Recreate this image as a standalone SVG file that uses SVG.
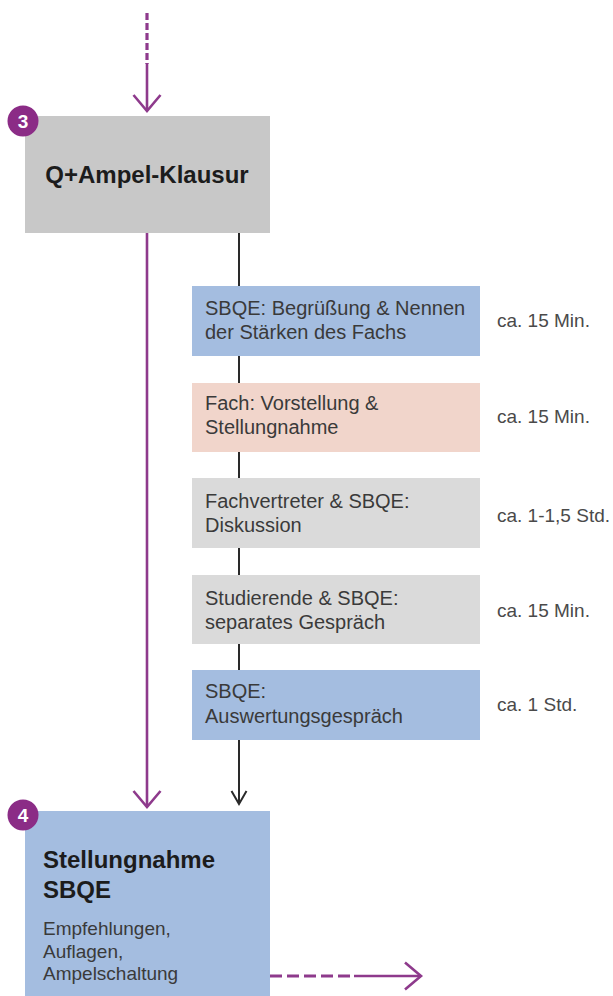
<svg xmlns="http://www.w3.org/2000/svg" width="613" height="996" viewBox="0 0 613 996">
<defs>
<style>
.bg{fill:#ffffff}
.hdr{fill:#c8c8c8}
.blue{fill:#a4bde0}
.pink{fill:#f1d5cb}
.grey{fill:#dadada}
.badge{fill:#8b2c86}
.badgetxt{font-family:"Liberation Sans",Arial,sans-serif;font-size:19px;font-weight:bold;fill:#ffffff;text-anchor:middle}
.title{font-family:"Liberation Sans",Arial,sans-serif;font-size:24px;font-weight:bold;fill:#1c1c1c}
.step{font-family:"Liberation Sans",Arial,sans-serif;font-size:20px;fill:#3a3a3a}
.dur{font-family:"Liberation Sans",Arial,sans-serif;font-size:19px;fill:#4a4a4a}
.sub{font-family:"Liberation Sans",Arial,sans-serif;font-size:19px;fill:#3a3a3a}
.purple{fill:none;stroke:#8e3a8c;stroke-width:2.6}
.dash{fill:none;stroke:#8e3a8c;stroke-width:3.2}
.black{fill:none;stroke:#2a2a2a;stroke-width:2}
</style>
<marker id="ap" markerUnits="userSpaceOnUse" markerWidth="22" markerHeight="32" refX="18" refY="15" orient="auto">
<path d="M2,1.5 L18,15 L2,28.5" fill="none" stroke="#8e3a8c" stroke-width="2.6"/>
</marker>
<marker id="ab" markerUnits="userSpaceOnUse" markerWidth="18" markerHeight="20" refX="15" refY="9" orient="auto">
<path d="M2,1.5 L15,9 L2,16.5" fill="none" stroke="#2a2a2a" stroke-width="2"/>
</marker>
</defs>
<rect class="bg" x="0" y="0" width="613" height="996"/>

<g id="connectors">
<path class="dash" d="M147,13 L147,64" stroke-dasharray="7 3"/>
<path class="purple" d="M147,63 L147,111" marker-end="url(#ap)"/>
<path class="purple" d="M147,233 L147,807" marker-end="url(#ap)"/>
<path class="black" d="M239,233 L239,804" marker-end="url(#ab)"/>
<path class="dash" d="M270,976 L354,976" stroke-dasharray="12 5"/>
<path class="purple" d="M354,976 L421,976" marker-end="url(#ap)"/>
</g>

<g id="node3">
<rect class="hdr" x="25" y="116" width="245" height="117"/>
<text class="title" x="147" y="183" text-anchor="middle">Q+Ampel-Klausur</text>
<circle class="badge" cx="23" cy="121" r="15.5"/>
<text class="badgetxt" x="23" y="128">3</text>
</g>

<g id="step1">
<rect class="blue" x="192" y="286" width="288" height="70"/>
<text class="step" x="205" y="315">SBQE: Begrüßung &amp; Nennen</text>
<text class="step" x="205" y="339">der Stärken des Fachs</text>
<text class="dur" x="497" y="327">ca. 15 Min.</text>
</g>

<g id="step2">
<rect class="pink" x="192" y="383" width="288" height="69"/>
<text class="step" x="205" y="410">Fach: Vorstellung &amp;</text>
<text class="step" x="205" y="434">Stellungnahme</text>
<text class="dur" x="497" y="423">ca. 15 Min.</text>
</g>

<g id="step3">
<rect class="grey" x="192" y="478" width="288" height="70"/>
<text class="step" x="205" y="508">Fachvertreter &amp; SBQE:</text>
<text class="step" x="205" y="532">Diskussion</text>
<text class="dur" x="497" y="522">ca. 1-1,5 Std.</text>
</g>

<g id="step4">
<rect class="grey" x="192" y="575" width="288" height="69"/>
<text class="step" x="205" y="605">Studierende &amp; SBQE:</text>
<text class="step" x="205" y="629">separates Gespräch</text>
<text class="dur" x="497" y="617">ca. 15 Min.</text>
</g>

<g id="step5">
<rect class="blue" x="192" y="670" width="288" height="70"/>
<text class="step" x="205" y="698">SBQE:</text>
<text class="step" x="205" y="723">Auswertungsgespräch</text>
<text class="dur" x="497" y="711">ca. 1 Std.</text>
</g>

<g id="node4">
<rect class="blue" x="25" y="811" width="245" height="185"/>
<text class="title" x="43" y="868">Stellungnahme</text>
<text class="title" x="43" y="898">SBQE</text>
<text class="sub" x="43" y="935">Empfehlungen,</text>
<text class="sub" x="43" y="958">Auflagen,</text>
<text class="sub" x="43" y="980">Ampelschaltung</text>
<circle class="badge" cx="23" cy="815" r="15.5"/>
<text class="badgetxt" x="23" y="822">4</text>
</g>
</svg>
